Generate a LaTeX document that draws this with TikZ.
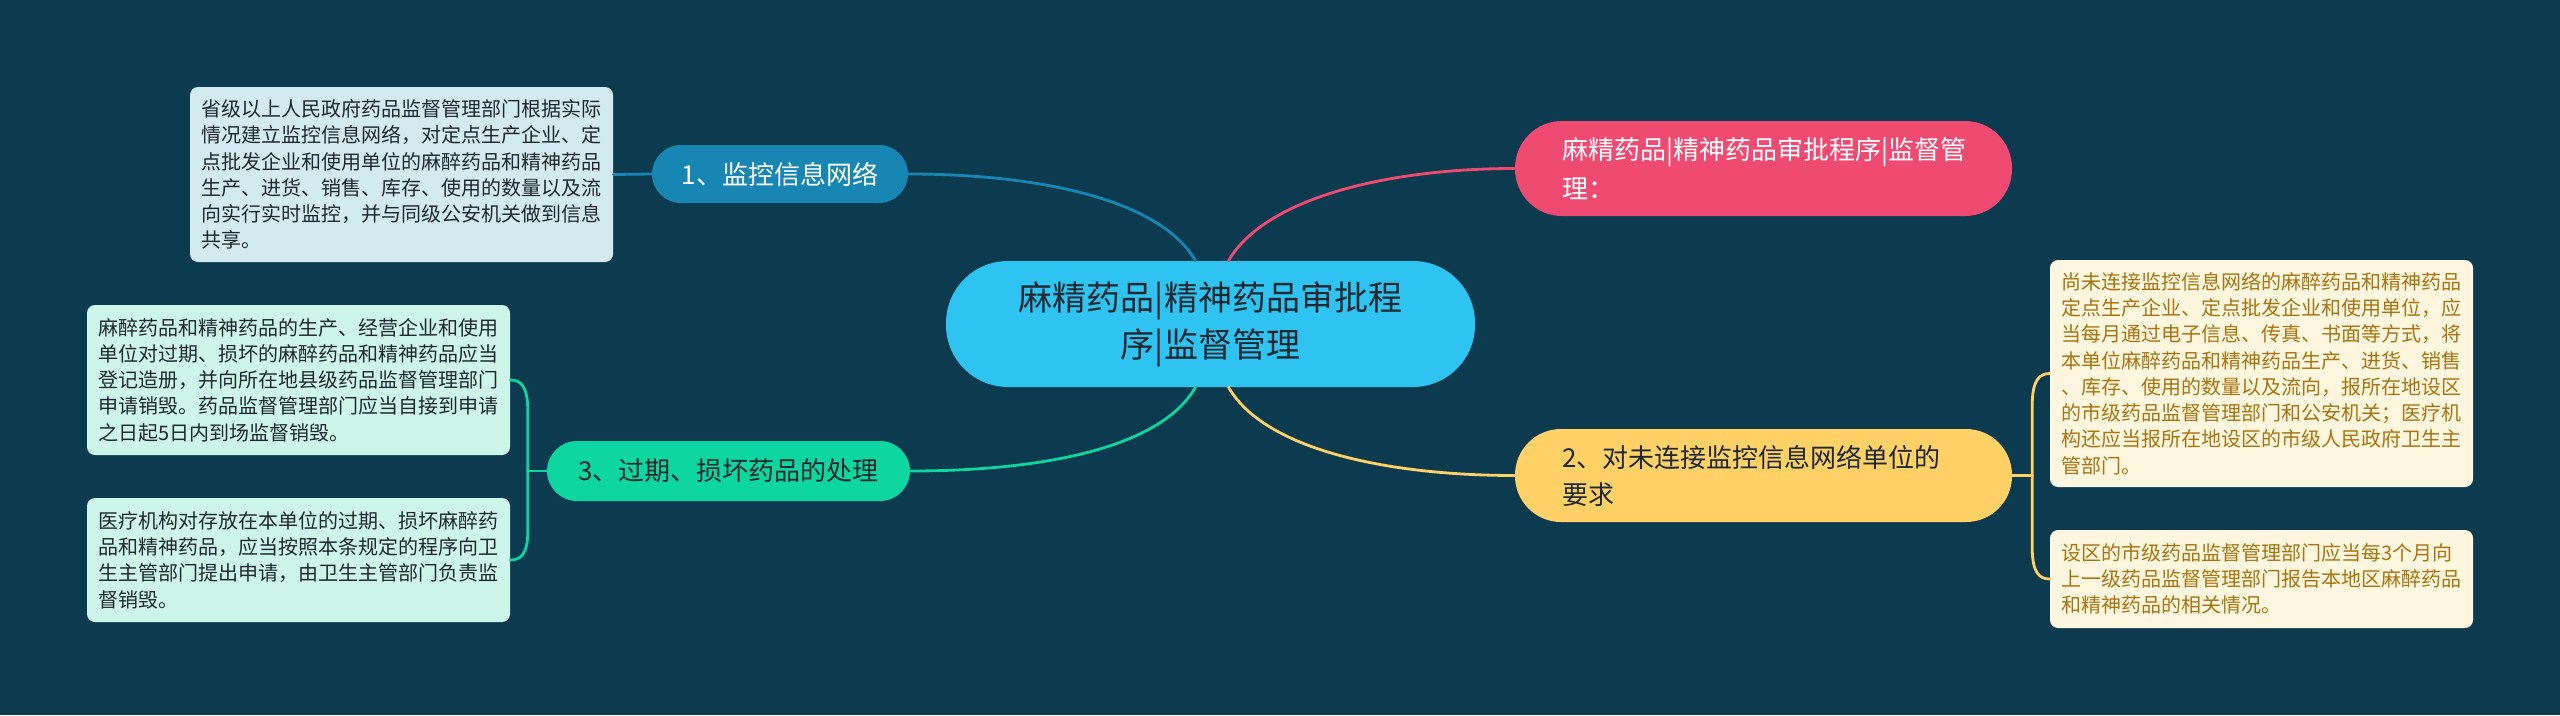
\documentclass[tikz,border=0pt]{standalone}
\usepackage{fontspec}
\setmainfont{Noto Sans CJK SC}
\usetikzlibrary{calc}
\definecolor{bg}{RGB}{12,58,79}
\definecolor{ccen}{RGB}{46,195,241}
\definecolor{cpink}{RGB}{239,74,114}
\definecolor{cyel}{RGB}{255,209,102}
\definecolor{cblue}{RGB}{24,134,178}
\definecolor{cgreen}{RGB}{14,214,160}
\definecolor{lblue}{RGB}{211,234,241}
\definecolor{lgreen}{RGB}{206,245,234}
\definecolor{lyel}{RGB}{255,246,224}
\definecolor{tbrown}{RGB}{166,116,16}
\definecolor{tdark}{RGB}{30,40,48}
\tikzset{
  leafbox/.style={rectangle, rounded corners=8pt, inner sep=0pt, minimum width=423pt,
    text width=400pt, align=left, font=\fontsize{20}{26.3}\selectfont},
  pillbox/.style={rectangle, inner ysep=0pt},
  conn/.style={line width=2.8pt, line cap=round},
}
\begin{document}
\begin{tikzpicture}[x=1pt,y=-1pt]
\fill[bg] (0,0) rectangle (2560,715);
\useasboundingbox (0,0) rectangle (2560,715);

% central
\node[pillbox, fill=ccen, rounded corners=62pt, minimum width=529pt, minimum height=126pt,
  align=center, text=tdark, font=\fontsize{34}{47}\selectfont] (c) at (1210.5,324)
  {麻精药品|精神药品审批程\\序|监督管理};

% main branches
\node[pillbox, fill=cpink, rounded corners=47pt, minimum height=95pt, inner xsep=47pt,
  text width=403pt, align=left, text=white, font=\fontsize{26}{38.5}\selectfont] (pk) at (1763.5,168.5)
  {麻精药品|精神药品审批程序|监督管\\理：};
\node[pillbox, fill=cyel, rounded corners=46pt, minimum height=93pt, inner xsep=47pt,
  text width=403pt, align=left, text=tdark, font=\fontsize{26}{37}\selectfont] (n2) at (1763.5,475.5)
  {2、对未连接监控信息网络单位的\\要求};
\node[pillbox, fill=cblue, rounded corners=29pt, minimum width=256pt, minimum height=58pt,
  text=white, font=\fontsize{26}{30}\selectfont] (n1) at (780,174) {1、监控信息网络};
\node[pillbox, fill=cgreen, rounded corners=30pt, minimum width=363pt, minimum height=60pt,
  text=tdark, font=\fontsize{26}{30}\selectfont] (n3) at (728.5,471) {3、过期、损坏药品的处理};

% leaves
\node[leafbox, fill=lblue, minimum height=175pt, text=tdark] (l1) at (401.5,174.5)
  {省级以上人民政府药品监督管理部门根据实际\\情况建立监控信息网络，对定点生产企业、定\\点批发企业和使用单位的麻醉药品和精神药品\\生产、进货、销售、库存、使用的数量以及流\\向实行实时监控，并与同级公安机关做到信息\\共享。};
\node[leafbox, fill=lgreen, minimum height=150pt, text=tdark] (l3a) at (298.5,380)
  {麻醉药品和精神药品的生产、经营企业和使用\\单位对过期、损坏的麻醉药品和精神药品应当\\登记造册，并向所在地县级药品监督管理部门\\申请销毁。药品监督管理部门应当自接到申请\\之日起5日内到场监督销毁。};
\node[leafbox, fill=lgreen, minimum height=124pt, text=tdark] (l3b) at (298.5,560)
  {医疗机构对存放在本单位的过期、损坏麻醉药\\品和精神药品，应当按照本条规定的程序向卫\\生主管部门提出申请，由卫生主管部门负责监\\督销毁。};
\node[leafbox, fill=lyel, minimum height=227pt, text=tbrown] (l2a) at (2261.5,373.5)
  {尚未连接监控信息网络的麻醉药品和精神药品\\定点生产企业、定点批发企业和使用单位，应\\当每月通过电子信息、传真、书面等方式，将\\本单位麻醉药品和精神药品生产、进货、销售\\、库存、使用的数量以及流向，报所在地设区\\的市级药品监督管理部门和公安机关；医疗机\\构还应当报所在地设区的市级人民政府卫生主\\管部门。};
\node[leafbox, fill=lyel, minimum height=98pt, text=tbrown] (l2b) at (2261.5,579)
  {设区的市级药品监督管理部门应当每3个月向\\上一级药品监督管理部门报告本地区麻醉药品\\和精神药品的相关情况。};

% connectors from center
\draw[conn, cblue] ($(c.north)+(-15,0)$) .. controls ($(c.north)+(-50,-61)$) and ($(n1.east)+(132,0)$) .. (n1.east);
\draw[conn, cpink] ($(c.north)+(18,0)$) .. controls ($(c.north)+(53,-61)$) and ($(pk.west)+(-132,0)$) .. (pk.west);
\draw[conn, cgreen] ($(c.south)+(-15,0)$) .. controls ($(c.south)+(-50,61)$) and ($(n3.east)+(132,0)$) .. (n3.east);
\draw[conn, cyel] ($(c.south)+(18,0)$) .. controls ($(c.south)+(53,61)$) and ($(n2.west)+(-132,0)$) .. (n2.west);

% leaf connectors
\draw[conn, cblue] (n1.west) -- (l1.east);

\coordinate (j3) at ($(n3.west)+(-19,0)$);
\draw[conn, cgreen] (n3.west) -- (j3);
\draw[conn, cgreen] (j3) -- ($(j3)+(0,-60)$) .. controls ($(j3)+(0,-86)$) and ($(l3a.east)+(10,0)$) .. (l3a.east);
\draw[conn, cgreen] (j3) -- ($(j3)+(0,60)$) .. controls ($(j3)+(0,84)$) and ($(l3b.east)+(10,0)$) .. (l3b.east);

\coordinate (j2) at ($(n2.east)+(20,0)$);
\draw[conn, cyel] (n2.east) -- (j2);
\draw[conn, cyel] (j2) -- ($(j2)+(0,-70)$) .. controls ($(j2)+(0,-96)$) and ($(l2a.west)+(-10,0)$) .. (l2a.west);
\draw[conn, cyel] (j2) -- ($(j2)+(0,72)$) .. controls ($(j2)+(0,98)$) and ($(l2b.west)+(-10,0)$) .. (l2b.west);
\end{tikzpicture}
\end{document}
